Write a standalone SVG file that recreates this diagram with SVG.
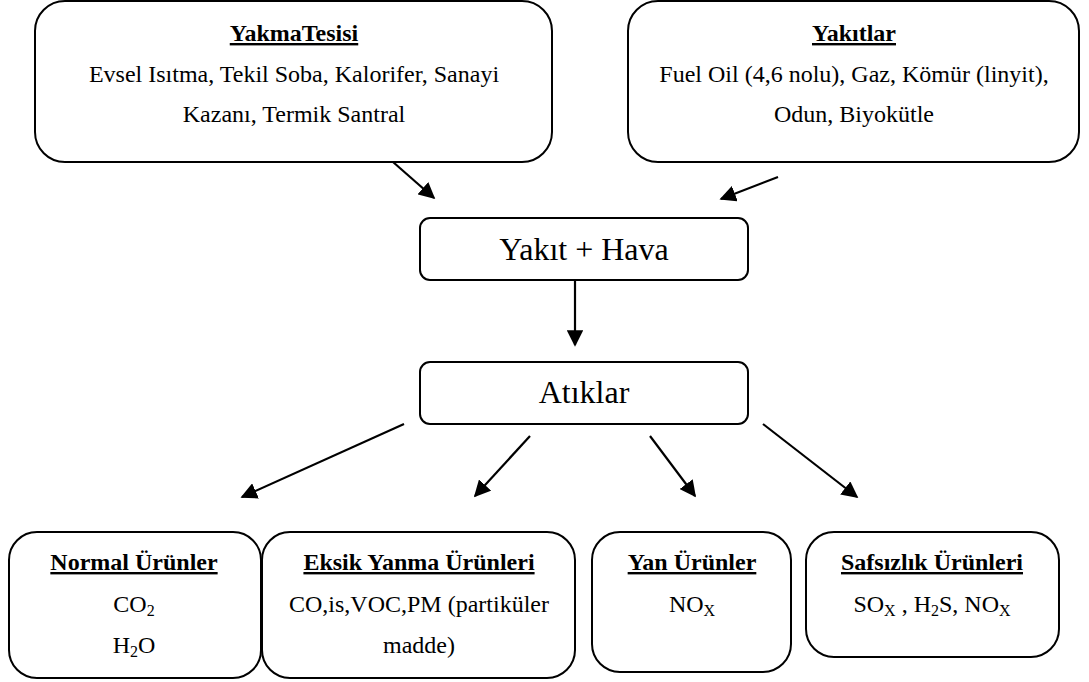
<svg xmlns="http://www.w3.org/2000/svg" width="1089" height="682" viewBox="0 0 1089 682">
<style>
.box{fill:#fff;stroke:#000;stroke-width:2}
text{font-family:"Liberation Serif","Times New Roman",serif;fill:#000;text-anchor:middle}
.t{font-size:24px;font-weight:bold;text-decoration:underline}
.b{font-size:24px}
.big{font-size:32px}
.sub{font-size:16px}
.con{stroke:#000;stroke-width:2.2;fill:none;marker-end:url(#ah)}
</style>
<defs>
<marker id="ah" viewBox="0 0 10 10" refX="9" refY="5" markerWidth="7.5" markerHeight="7.5" markerUnits="strokeWidth" orient="auto">
<path d="M0,0 L10,5 L0,10 z" fill="#000"/>
</marker>
</defs>
<g id="yakmatesisi">
<rect class="box" x="35" y="1" width="517" height="161" rx="30"/>
<text class="t" x="294" y="41">YakmaTesisi</text>
<text class="b" x="294" y="82">Evsel Isıtma, Tekil Soba, Kalorifer, Sanayi</text>
<text class="b" x="294" y="122">Kazanı, Termik Santral</text>
</g>
<g id="yakitlar">
<rect class="box" x="628" y="1" width="451" height="161" rx="30"/>
<text class="t" x="854" y="41">Yakıtlar</text>
<text class="b" x="854" y="82">Fuel Oil (4,6 nolu), Gaz, Kömür (linyit),</text>
<text class="b" x="854" y="122">Odun, Biyokütle</text>
</g>
<g id="yakithava">
<rect class="box" x="420" y="218" width="328" height="62" rx="10"/>
<text class="big" x="584" y="260">Yakıt + Hava</text>
</g>
<g id="atiklar">
<rect class="box" x="420" y="362" width="328" height="62" rx="10"/>
<text class="big" x="584" y="403">Atıklar</text>
</g>
<g id="normal">
<rect class="box" x="9" y="532" width="252" height="146" rx="28"/>
<text class="t" x="134" y="570">Normal Ürünler</text>
<text class="b" x="134" y="612">CO<tspan class="sub" dy="4">2</tspan></text>
<text class="b" x="134" y="653">H<tspan class="sub" dy="4">2</tspan><tspan dy="-4">O</tspan></text>
</g>
<g id="eksik">
<rect class="box" x="262" y="532" width="313" height="146" rx="28"/>
<text class="t" x="419" y="570">Eksik Yanma Ürünleri</text>
<text class="b" x="419" y="612">CO,is,VOC,PM (partiküler</text>
<text class="b" x="419" y="653">madde)</text>
</g>
<g id="yan">
<rect class="box" x="592" y="532" width="199" height="140" rx="28"/>
<text class="t" x="692" y="570">Yan Ürünler</text>
<text class="b" x="692" y="612">NO<tspan class="sub" dy="4">X</tspan></text>
</g>
<g id="safsizlik">
<rect class="box" x="806" y="532" width="253" height="125" rx="28"/>
<text class="t" x="932" y="570">Safsızlık Ürünleri</text>
<text class="b" x="932" y="612">SO<tspan class="sub" dy="4">X</tspan><tspan dy="-4"> , H</tspan><tspan class="sub" dy="4">2</tspan><tspan dy="-4">S, NO</tspan><tspan class="sub" dy="4">X</tspan></text>
</g>
<g id="connectors">
<line class="con" x1="393" y1="162" x2="434" y2="198"/>
<line class="con" x1="778" y1="177" x2="721" y2="199"/>
<line class="con" x1="575" y1="280" x2="575" y2="345"/>
<line class="con" x1="404" y1="424" x2="242" y2="497"/>
<line class="con" x1="530" y1="436" x2="475" y2="496"/>
<line class="con" x1="650" y1="436" x2="695" y2="496"/>
<line class="con" x1="763" y1="424" x2="857" y2="497"/>
</g>
</svg>
